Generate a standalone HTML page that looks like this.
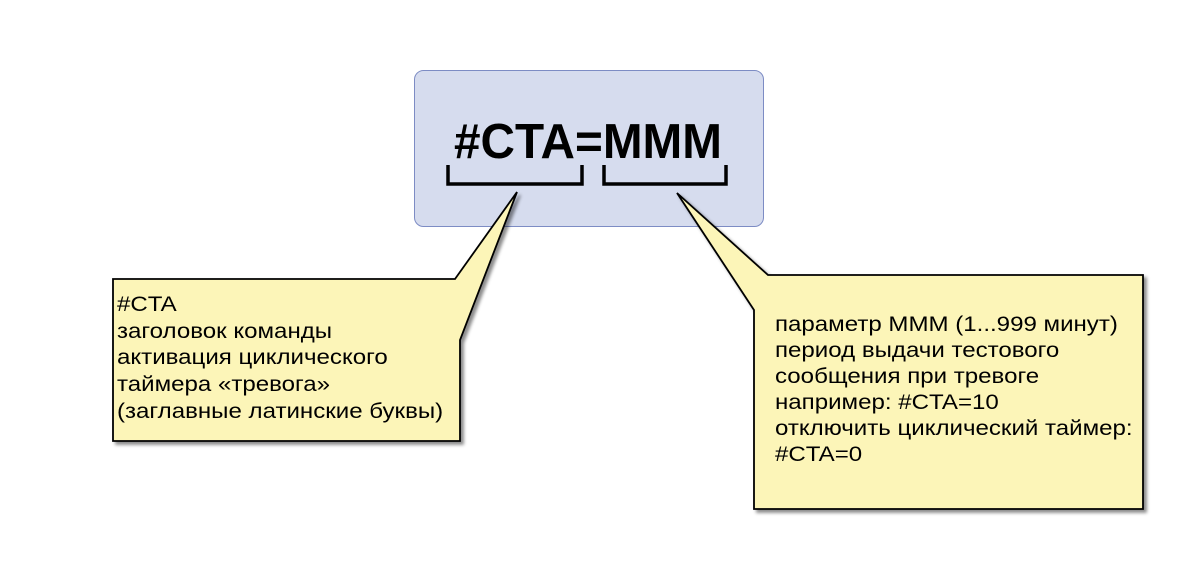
<!DOCTYPE html>
<html><head><meta charset="utf-8"><style>
html,body{margin:0;padding:0;background:#fff;}
svg{display:block;}
text{font-family:"Liberation Sans",sans-serif;}
</style></head><body>
<svg width="1200" height="573" viewBox="0 0 1200 573">
<defs><filter id="sh" x="-10%" y="-10%" width="120%" height="120%"><feDropShadow dx="3" dy="3" stdDeviation="1.5" flood-color="#000" flood-opacity="0.45"/></filter></defs>
<rect x="414.5" y="70.5" width="349" height="156" rx="9" fill="#d6dcee" stroke="#7d8cc4" stroke-width="1"/>
<text x="588" y="158" font-size="49" font-weight="bold" text-anchor="middle" fill="#000" textLength="268" lengthAdjust="spacingAndGlyphs">#CTA=MMM</text>
<polyline points="448,165 448,184 582,184 582,165" fill="none" stroke="#000" stroke-width="3.5"/>
<polyline points="604,165 604,184 726,184 726,165" fill="none" stroke="#000" stroke-width="3.5"/>
<path d="M113,279 L455,279 L517,192 L460,340 L460,441 L113,441 Z" fill="#fcf5b8" stroke="#000" stroke-width="1.8" filter="url(#sh)"/>
<path d="M754,310 L677,193 L768,275 L1143,275 L1143,509 L754,509 Z" fill="#fcf5b8" stroke="#000" stroke-width="1.8" filter="url(#sh)"/>
<g font-size="21.5" fill="#000">
<text transform="translate(117,311) scale(1.12,1)">#CTA</text>
<text transform="translate(117,338) scale(1.12,1)">заголовок команды</text>
<text transform="translate(117,364) scale(1.12,1)">активация циклического</text>
<text transform="translate(117,391) scale(1.12,1)">таймера «тревога»</text>
<text transform="translate(117,418) scale(1.12,1)">(заглавные латинские буквы)</text>
<text transform="translate(775,331) scale(1.12,1)">параметр MMM (1...999 минут)</text>
<text transform="translate(775,357) scale(1.12,1)">период выдачи тестового</text>
<text transform="translate(775,383) scale(1.12,1)">сообщения при тревоге</text>
<text transform="translate(775,409) scale(1.12,1)">например: #CTA=10</text>
<text transform="translate(775,435) scale(1.12,1)">отключить циклический таймер:</text>
<text transform="translate(775,461) scale(1.12,1)">#CTA=0</text>
</g>
</svg>
</body></html>
